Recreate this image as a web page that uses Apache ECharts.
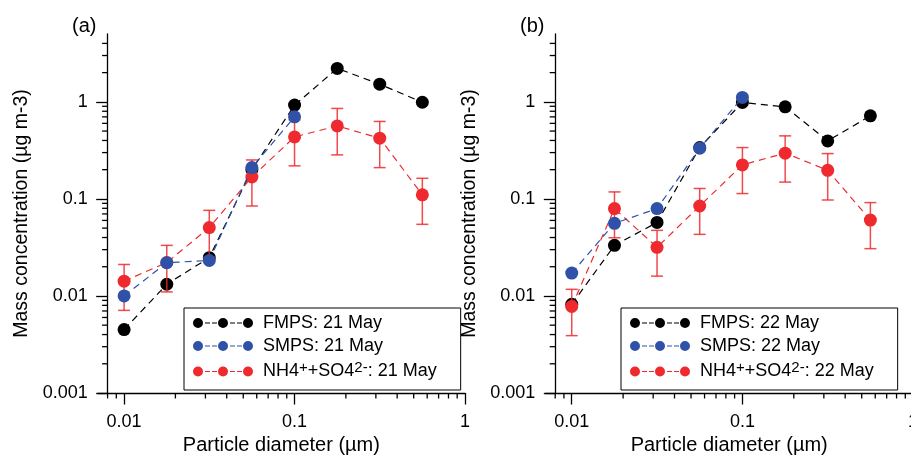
<!doctype html>
<html>
<head>
<meta charset="utf-8">
<title>Mass concentration</title>
<script src="https://cdn.jsdelivr.net/npm/echarts@6/dist/echarts.min.js"></script>
<style>
  html, body { margin: 0; padding: 0; background: #fff; }
  #chart { width: 911px; height: 455px; }
</style>
</head>
<body>
<div id="chart"></div>
<script>
// particle diameters (um), same bins in both panels
var diam = [0.01, 0.0178, 0.0316, 0.0562, 0.1, 0.178, 0.316, 0.562];

// (a) 21 May
var fmps21 = [0.0045, 0.0132, 0.0248, 0.20, 0.925, 2.21, 1.52, 0.99];
var smps21 = [0.0100, 0.0220, 0.0232, 0.21, 0.70];
var ion21 = [0.0142, 0.0221, 0.0506, 0.168, 0.435, 0.565, 0.422, 0.110];
var ion21Lo = [0.0071, 0.0110, 0.025, 0.0845, 0.219, 0.284, 0.210, 0.0547];
var ion21Hi = [0.0211, 0.0332, 0.0762, 0.252, 0.652, 0.855, 0.628, 0.163];

// (b) 22 May
var fmps22 = [0.0082, 0.0332, 0.0572, 0.338, 0.986, 0.888, 0.396, 0.717];
var smps22 = [0.0172, 0.056, 0.0794, 0.333, 1.11];
var ion22 = [0.0078, 0.0794, 0.0317, 0.0845, 0.224, 0.296, 0.197, 0.0605];
var ion22Lo = [0.0039, 0.0398, 0.016, 0.0431, 0.1135, 0.149, 0.0974, 0.0307];
var ion22Hi = [0.0117, 0.118, 0.0474, 0.128, 0.338, 0.446, 0.293, 0.0916];

var names21 = ['FMPS: 21 May', 'SMPS: 21 May', 'NH4++SO42-: 21 May'];
var names22 = ['FMPS: 22 May', 'SMPS: 22 May', 'NH4++SO42-: 22 May'];

// minor tick marks (log axes, Igor style); majors come from the axes
var xMinor = [0.008, 0.009, 0.02, 0.03, 0.04, 0.05, 0.06, 0.07, 0.08, 0.09,
  0.2, 0.3, 0.4, 0.5, 0.6, 0.7, 0.8, 0.9];
var yMinor = [0.002, 0.003, 0.004, 0.005, 0.006, 0.007, 0.008, 0.009,
  0.02, 0.03, 0.04, 0.05, 0.06, 0.07, 0.08, 0.09,
  0.2, 0.3, 0.4, 0.5, 0.6, 0.7, 0.8, 0.9, 2, 3, 4];
var X_MIN = 0.007, X_MAX = 1, Y_AT = 0.008, Y_MIN = 0.001, Y_MAX = 5, Y_MID = 0.01;

var FONT = "'Liberation Sans', Arial, Helvetica, sans-serif";
var BLACK = '#000000', BLUE = '#2f51a8', RED = '#ee2a2e';

function pairs(ys) {
  return ys.map(function (v, i) { return [diam[i], v]; });
}
function bars(lo, hi) {
  return lo.map(function (v, i) { return [diam[i], v, hi[i]]; });
}

// little dashed line with three dots for the legend
var legendIcon = 'path://M0,5a5,5 0 1,0 10,0a5,5 0 1,0 -10,0z' +
  'M12,4.4h5v1.2h-5z M19,4.4h5v1.2h-5z' +
  'M25,5a5,5 0 1,0 10,0a5,5 0 1,0 -10,0z' +
  'M37,4.4h5v1.2h-5z M44,4.4h5v1.2h-5z' +
  'M50,5a5,5 0 1,0 10,0a5,5 0 1,0 -10,0z';

function legendFmt(name) {
  if (name.indexOf('NH4') === 0) {
    return '{n|NH4}{s|+}{n|+SO4}{s|2-}{n|' + name.slice(10) + '}';
  }
  return '{n|' + name + '}';
}

function errorBar(params, api) {
  var x = api.value(0);
  var lo = api.coord([x, api.value(1)]);
  var hi = api.coord([x, api.value(2)]);
  var w = 6;
  var st = { stroke: RED, lineWidth: 1.5, opacity: 0.85 };
  return {
    type: 'group',
    children: [
      { type: 'line', shape: { x1: lo[0], y1: lo[1], x2: hi[0], y2: hi[1] }, style: st },
      { type: 'line', shape: { x1: hi[0] - w, y1: hi[1], x2: hi[0] + w, y2: hi[1] }, style: st },
      { type: 'line', shape: { x1: lo[0] - w, y1: lo[1], x2: lo[0] + w, y2: lo[1] }, style: st }
    ]
  };
}

// items: {dir: 'x'|'y', v: [x, y]}
function minorTickSeries(gi) {
  var items = [];
  xMinor.forEach(function (v) { items.push({ dir: 'x', v: [v, Y_MID] }); });
  yMinor.forEach(function (v) { items.push({ dir: 'y', v: [Y_AT, v] }); });
  return {
    type: 'custom', xAxisIndex: gi, yAxisIndex: gi,
    data: items.map(function (t) { return t.v; }),
    encode: { x: 0, y: 1 },
    renderItem: function (params, api) {
      var t = items[params.dataIndex];
      var cs = params.coordSys;
      var p = api.coord([api.value(0), api.value(1)]);
      var shape;
      if (t.dir === 'x') {
        var yb = cs.y + cs.height;
        shape = { x1: p[0], y1: yb, x2: p[0], y2: yb + 5.5 };
      } else {
        var xa = api.coord([Y_AT, Y_MID])[0];
        shape = { x1: xa - 5.5, y1: p[1], x2: xa, y2: p[1] };
      }
      return { type: 'line', shape: shape, style: { stroke: BLACK, lineWidth: 1.3 } };
    }
  };
}

function xAxisOf(gi) {
  return {
    type: 'log', gridIndex: gi, min: X_MIN, max: X_MAX,
    name: 'Particle diameter (\u00b5m)', nameLocation: 'middle', nameGap: 40,
    nameTextStyle: { fontSize: 20, color: BLACK, fontFamily: FONT },
    axisLine: { lineStyle: { color: BLACK, width: 1.3 } },
    axisTick: { show: true, length: 11.5, lineStyle: { color: BLACK, width: 1.3 } },
    axisLabel: { fontSize: 18, color: BLACK, fontFamily: FONT, margin: 20, showMinLabel: false },
    splitLine: { show: false }
  };
}
function yAxisOf(gi) {
  return {
    type: 'log', gridIndex: gi, min: Y_MIN, max: Y_MAX, offset: -10,
    name: 'Mass concentration (\u00b5g m-3)', nameLocation: 'middle', nameGap: 76,
    nameTextStyle: { fontSize: 19.5, color: BLACK, fontFamily: FONT },
    axisLine: { lineStyle: { color: BLACK, width: 1.3 } },
    axisTick: { show: true, length: 11.5, lineStyle: { color: BLACK, width: 1.3 } },
    axisLabel: { fontSize: 18, color: BLACK, fontFamily: FONT, margin: 20, showMaxLabel: false },
    splitLine: { show: false }
  };
}
function lineSeries(name, gi, ys, color, z) {
  return {
    name: name, type: 'line', xAxisIndex: gi, yAxisIndex: gi,
    data: pairs(ys), z: z,
    symbol: 'circle', symbolSize: 13,
    itemStyle: { color: color },
    lineStyle: { color: color, width: 1.2, type: [7, 5] }
  };
}
function barSeries(gi, lo, hi) {
  return {
    type: 'custom', xAxisIndex: gi, yAxisIndex: gi, z: 3,
    data: bars(lo, hi), encode: { x: 0, y: [1, 2] },
    renderItem: errorBar
  };
}
function legendOf(names, left) {
  return {
    data: names, orient: 'vertical', left: left, top: 308,
    icon: legendIcon, itemWidth: 60, itemHeight: 10, itemGap: 5,
    borderColor: BLACK, borderWidth: 1, borderRadius: 0,
    padding: [6, 24, 7, 9],
    formatter: legendFmt,
    textStyle: {
      color: BLACK, fontFamily: FONT, padding: [0, 0, 0, 5],
      rich: {
        n: { fontSize: 18, lineHeight: 20.5, fontFamily: FONT, color: BLACK },
        s: { fontSize: 15, lineHeight: 20.5, fontFamily: FONT, color: BLACK, padding: [0, 0, 8, 0] }
      }
    }
  };
}

var chart = echarts.init(document.getElementById('chart'));
var option = {
  animation: false,
  textStyle: { fontFamily: FONT },
  title: [
    { text: '(a)', left: 67, top: 11, textStyle: { fontSize: 20, fontWeight: 'normal', color: BLACK, fontFamily: FONT } },
    { text: '(b)', left: 515, top: 11, textStyle: { fontSize: 20, fontWeight: 'normal', color: BLACK, fontFamily: FONT } }
  ],
  grid: [
    { left: 97.7, top: 34, width: 367.3, height: 359, outerBoundsMode: 'none' },
    { left: 545.3, top: 34, width: 367.8, height: 359, outerBoundsMode: 'none' }
  ],
  xAxis: [xAxisOf(0), xAxisOf(1)],
  yAxis: [yAxisOf(0), yAxisOf(1)],
  legend: [legendOf(names21, 184), legendOf(names22, 621)],
  series: [
    lineSeries(names21[0], 0, fmps21, BLACK, 2),
    barSeries(0, ion21Lo, ion21Hi),
    lineSeries(names21[2], 0, ion21, RED, 4),
    lineSeries(names21[1], 0, smps21, BLUE, 5),
    lineSeries(names22[0], 1, fmps22, BLACK, 2),
    barSeries(1, ion22Lo, ion22Hi),
    lineSeries(names22[2], 1, ion22, RED, 4),
    lineSeries(names22[1], 1, smps22, BLUE, 5),
    minorTickSeries(0),
    minorTickSeries(1)
  ]
};
chart.setOption(option);
</script>
</body>
</html>
